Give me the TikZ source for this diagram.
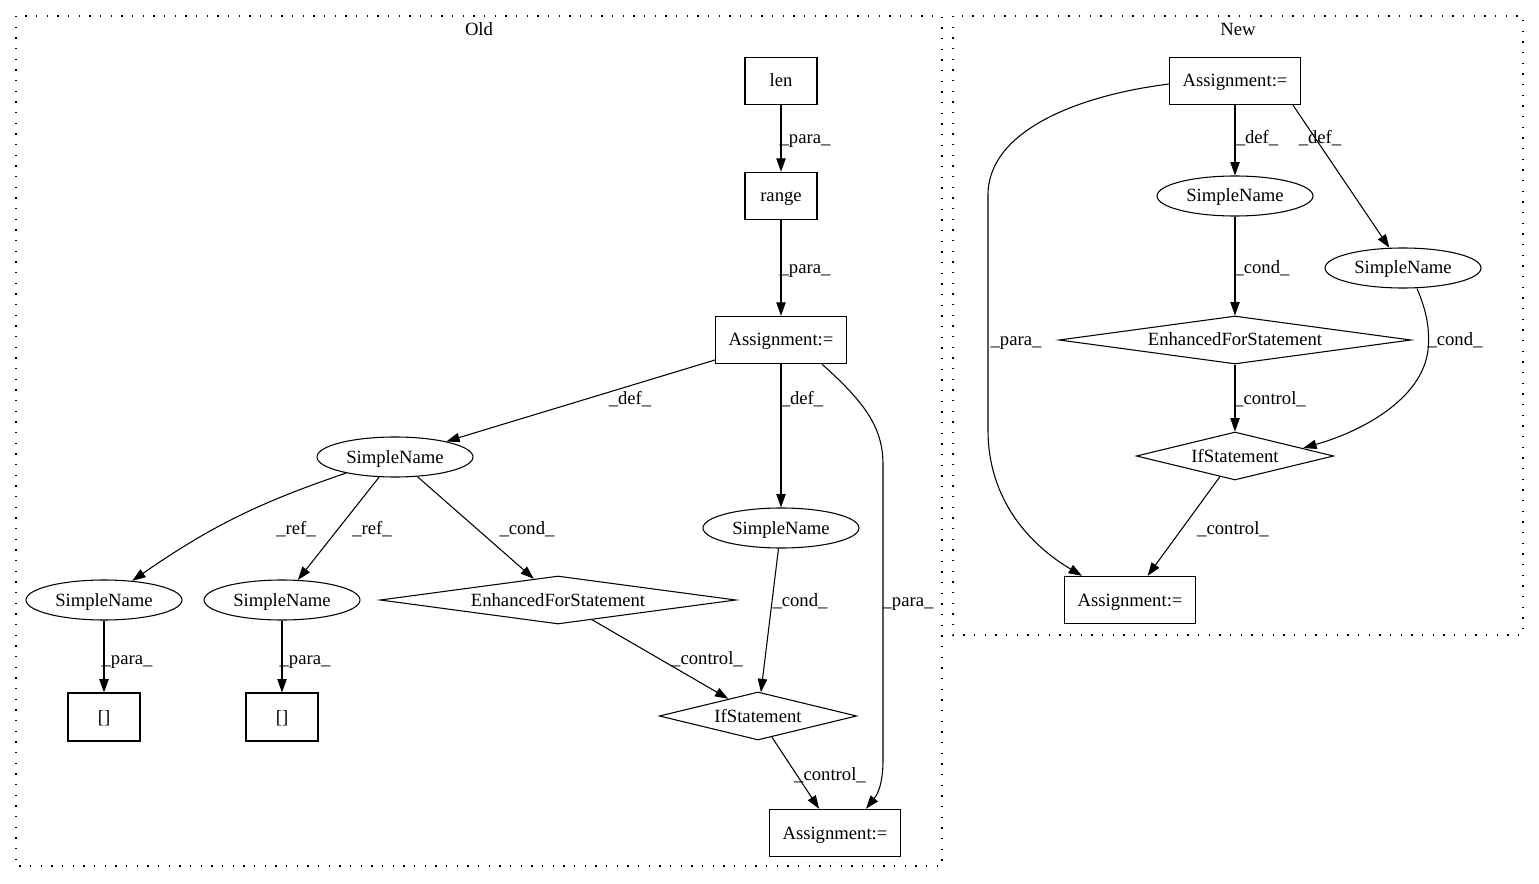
\documentclass[tikz,border=0pt]{standalone}
\usepackage{fontspec}
\setmainfont{Liberation Serif}
\usetikzlibrary{shapes.geometric,arrows.meta,calc}
\begin{document}
\begin{tikzpicture}[x=0.75pt,y=-0.75pt,
  every node/.style={font=\fontsize{14pt}{16pt}\selectfont,text height=12pt,text depth=3pt},
  box/.style={draw,rectangle,line width=0.8pt,minimum width=54pt,minimum height=35.5pt,inner xsep=9.5pt,inner ysep=0pt},
  ell/.style={draw,ellipse,line width=0.8pt,minimum width=117pt,minimum height=30pt,inner sep=0pt},
  dia/.style={draw,diamond,line width=0.8pt,minimum height=36pt,inner sep=0pt},
  arr/.style={line width=0.8pt,-{Triangle[length=10pt,width=7pt]}},
  lbl/.style={inner sep=0pt},
  clus/.style={line width=1pt,dash pattern=on 1pt off 7pt}]
\useasboundingbox (0,0) rectangle (1539,884);
% clusters
\draw[clus] (16,16) rectangle (942,866);
\draw[clus] (953,16) rectangle (1523,635);
\node (tOld) at (479,30) {Old};
\node (tNew) at (1238,30) {New};
% Old nodes
\node[box] (len) at (781,81) {len};
\node[box] (range) at (781,196) {range};
\node[box] (A1) at (781,340) {Assignment:=};
\node[ell] (S1) at (395,457) {SimpleName};
\node[ell] (S2) at (781,528) {SimpleName};
\node[ell] (S3) at (104,600) {SimpleName};
\node[ell] (S4) at (282,600) {SimpleName};
\node[dia,shape aspect=7,minimum width=267pt] (E1) at (558,600) {EnhancedForStatement};
\node[dia,shape aspect=4,minimum width=148pt] (I1) at (758,716) {IfStatement};
\node[box,minimum height=36pt] (B1) at (104,717) {[]};
\node[box,minimum height=36pt] (B2) at (282,717) {[]};
\node[box] (A2) at (835,833) {Assignment:=};
% New nodes
\node[box] (A3) at (1235,81) {Assignment:=};
\node[ell] (S5) at (1235,196) {SimpleName};
\node[ell] (S6) at (1403,268) {SimpleName};
\node[dia,shape aspect=7,minimum width=264pt] (E2) at (1235,340) {EnhancedForStatement};
\node[dia,shape aspect=4,minimum width=148pt] (I2) at (1235,456) {IfStatement};
\node[box] (A4) at (1130,600) {Assignment:=};
% Old edges
\draw[arr] (len) -- (range);
\node[lbl] (l1) at (805,138) {\_para\_};
\draw[arr] (range) -- (A1);
\node[lbl] (l2) at (805,268) {\_para\_};
\draw[arr] (A1) -- (S1);
\node[lbl] (l3) at (630,398) {\_def\_};
\draw[arr] (A1) -- (S2);
\node[lbl] (l4) at (802,398) {\_def\_};
\draw[arr] ($(A1.south)+(41,0)$) .. controls (868,405) and (883,430) .. (883,465) -- (883,760) .. controls (883,785) and (877,795) .. ($(A2.north)+(31,0)$);
\node[lbl] (l5) at (908,600) {\_para\_};
\draw[arr] (S1) to[bend right=8] (S3);
\node[lbl] (l6) at (296,528) {\_ref\_};
\draw[arr] (S1) -- (S4);
\node[lbl] (l7) at (372,528) {\_ref\_};
\draw[arr] (S1) -- (E1);
\node[lbl] (l8) at (527,528) {\_cond\_};
\draw[arr] (S2) -- (I1);
\node[lbl] (l9) at (800,600) {\_cond\_};
\draw[arr] (E1) -- (I1);
\node[lbl] (l10) at (707,658) {\_control\_};
\draw[arr] (I1) -- (A2);
\node[lbl] (l11) at (830,774) {\_control\_};
\draw[arr] (S3) -- (B1);
\node[lbl] (l12) at (127,658) {\_para\_};
\draw[arr] (S4) -- (B2);
\node[lbl] (l13) at (305,658) {\_para\_};
% New edges
\draw[arr] (A3) -- (S5);
\node[lbl] (l14) at (1257,138) {\_def\_};
\draw[arr] ($(A3.south)+(58,0)$) -- (S6);
\node[lbl] (l15) at (1320,138) {\_def\_};
\draw[arr] ($(A3.west)+(0,3)$) .. controls (1080,95) and (988,130) .. (988,195) -- (988,430) .. controls (988,500) and (1030,545) .. ($(A4.north)+(-48,0)$);
\node[lbl] (l16) at (1016,340) {\_para\_};
\draw[arr] (S5) -- (E2);
\node[lbl] (l17) at (1262,268) {\_cond\_};
\draw[arr] ($(S6.south)+(14,0)$) .. controls (1427,312) and (1430,330) .. (1428,350) .. controls (1422,400) and (1360,432) .. ($(I2.east)+(-31,-8)$);
\node[lbl] (l18) at (1455,340) {\_cond\_};
\draw[arr] (E2) -- (I2);
\node[lbl] (l19) at (1270,398) {\_control\_};
\draw[arr] (I2) -- (A4);
\node[lbl] (l20) at (1233,528) {\_control\_};
\end{tikzpicture}
\end{document}
